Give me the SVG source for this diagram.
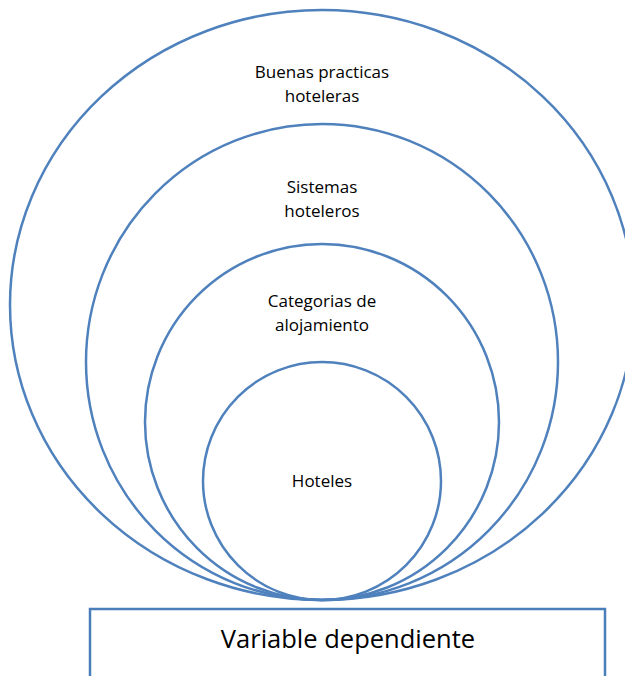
<svg xmlns="http://www.w3.org/2000/svg" width="625" height="676" viewBox="0 0 625 676">
<style>
.c{fill:none;stroke:#4F81BD;stroke-width:2.5}
.t{font-family:"Open Sans","Liberation Sans",sans-serif;font-size:17px;fill:#000;text-anchor:middle}
.b{fill:none;stroke:#4A7EBB;stroke-width:2.5}
</style>
<rect width="625" height="676" fill="#fff"/>
<g id="buenas">
<ellipse class="c" cx="322" cy="305" rx="312" ry="295"/>
<text class="t" x="322" y="78">Buenas practicas</text>
<text class="t" x="322" y="102">hoteleras</text>
</g>
<g id="sistemas">
<ellipse class="c" cx="322" cy="362" rx="236" ry="238"/>
<text class="t" x="322" y="193">Sistemas</text>
<text class="t" x="322" y="217">hoteleros</text>
</g>
<g id="categorias">
<ellipse class="c" cx="322" cy="422" rx="177" ry="178"/>
<text class="t" x="322" y="307">Categorias de</text>
<text class="t" x="322" y="331">alojamiento</text>
</g>
<g id="hoteles">
<ellipse class="c" cx="322" cy="481" rx="119" ry="119"/>
<text class="t" x="322" y="487">Hoteles</text>
</g>
<g id="variable">
<rect class="b" x="90" y="609" width="515" height="80"/>
<text class="t" x="348" y="648" style="font-size:25.5px">Variable dependiente</text>
</g>
<g id="connectors"/>
</svg>
